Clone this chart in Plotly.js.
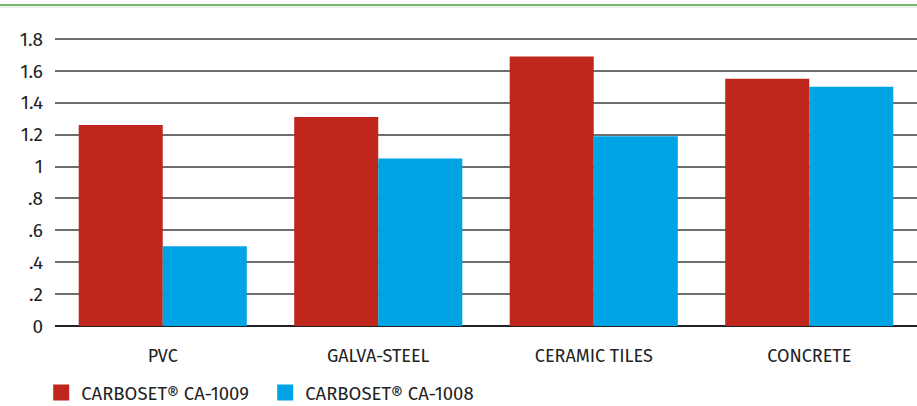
<!DOCTYPE html>
<html><head><meta charset="utf-8">
<script src="https://cdn.plot.ly/plotly-3.0.1.min.js"></script>
<style>html,body{margin:0;padding:0;background:#fff}#c{width:917px;height:406px}</style>
</head><body><div id="c"></div>
<script>
var categories = ["PVC", "GALVA-STEEL", "CERAMIC TILES", "CONCRETE"];
var seriesNames = ["CARBOSET® CA-1009", "CARBOSET® CA-1008"];
var ca1009 = [1.26, 1.31, 1.69, 1.55];
var ca1008 = [0.50, 1.05, 1.19, 1.50];
var tickVals = [0, 0.2, 0.4, 0.6, 0.8, 1, 1.2, 1.4, 1.6, 1.8];
var tickText = ["0", ".2", ".4", ".6", ".8", "1", "1.2", "1.4", "1.6", "1.8"];
var colors = ["#c0271c", "#00a3e4"];

var font = "Fira Sans, Noto Sans, Open Sans, sans-serif";
var data = [
  {type: "bar", x: categories, y: ca1009, name: seriesNames[0], marker: {color: colors[0]}, hoverinfo: "none", showlegend: false},
  {type: "bar", x: categories, y: ca1008, name: seriesNames[1], marker: {color: colors[1]}, hoverinfo: "none", showlegend: false},
  {type: "scatter", mode: "markers", x: [null], y: [null], name: seriesNames[0], marker: {color: colors[0], symbol: "square", size: 20}},
  {type: "scatter", mode: "markers", x: [null], y: [null], name: seriesNames[1], marker: {color: colors[1], symbol: "square", size: 20}}
];
var layout = {
  width: 917, height: 406,
  margin: {l: 55, r: 0, t: 31, b: 80, autoexpand: false},
  paper_bgcolor: "#fff", plot_bgcolor: "#fff",
  barmode: "group", bargap: 0.22, bargroupgap: 0,
  font: {family: font, color: "#222", size: 15},
  xaxis: {showgrid: false, zeroline: false, showline: false, ticks: "", ticklabelstandoff: 17,
          tickfont: {size: 18, color: "#222"}, automargin: false},
  yaxis: {range: [0, 1.85], tickvals: tickVals, ticktext: tickText, showgrid: true, gridcolor: "#6e6e6e", gridwidth: 2,
          zeroline: true, zerolinecolor: "#222", zerolinewidth: 1.5, ticks: "", ticklabelstandoff: 11,
          tickfont: {size: 19, color: "#222"}, automargin: false, fixedrange: true},
  legend: {orientation: "h", x: -0.016, xanchor: "left", y: -0.227, yanchor: "middle", font: {size: 18.5, color: "#222"},
           traceorder: "normal", itemwidth: 30, tracegroupgap: 0, entrywidth: 179, entrywidthmode: "pixels"},
  showlegend: true,
  shapes: [
    {type: "line", xref: "paper", yref: "paper", x0: -0.07, x1: 1.01, y0: 1.088, y1: 1.088, line: {color: "#4a9e3a", width: 1.5}},
    {type: "line", xref: "paper", yref: "paper", x0: -0.07, x1: 1.01, y0: 1.081, y1: 1.081, line: {color: "#d6ebd2", width: 1}}
  ]
};
Plotly.newPlot("c", data, layout, {displayModeBar: false, staticPlot: true});
</script></body></html>
